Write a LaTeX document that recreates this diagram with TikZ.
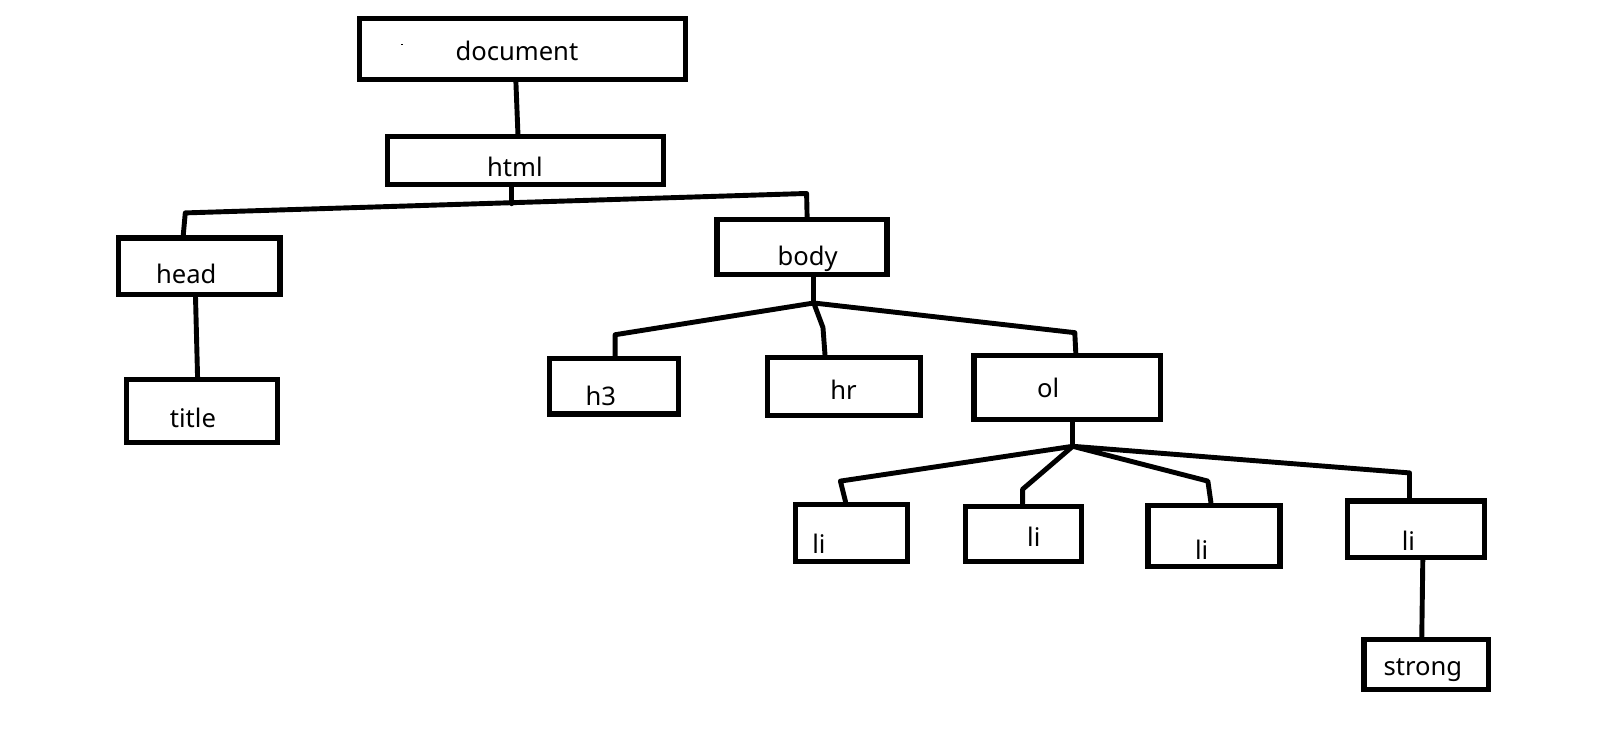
\documentclass[tikz,border=0pt]{standalone}
\usepackage{fontspec}
\setmainfont{Noto Sans}
\usepackage{tikz}

\begin{document}
\begin{tikzpicture}[x=1pt,y=-1pt,
    box/.style={draw,line width=5pt,inner sep=0pt},
    lbl/.style={anchor=base,inner sep=0pt,font=\fontsize{25}{30}\selectfont},
    link/.style={line width=4.8pt,line cap=round,line join=round}]
    \useasboundingbox (0,0) rectangle (1568,723);
    % boxes
    \node[box,minimum width=318pt,minimum height=59pt] (document) at (510.5,48) {};
    \node[box,minimum width=270pt,minimum height=47pt] (html) at (513.5,157) {};
    \node[box,minimum width=158pt,minimum height=55pt] (head) at (194.5,260) {};
    \node[box,minimum width=148pt,minimum height=62pt] (title) at (197.5,401.5) {};
    \node[box,minimum width=166pt,minimum height=54pt] (body) at (783.5,241.5) {};
    \node[box,minimum width=126pt,minimum height=54pt] (h3) at (599.5,377.5) {};
    \node[box,minimum width=150pt,minimum height=56pt] (hr) at (824.5,377.5) {};
    \node[box,minimum width=182pt,minimum height=62pt] (ol) at (1042.5,378.5) {};
    \node[box,minimum width=109pt,minimum height=56pt] (li1) at (832,520.5) {};
    \node[box,minimum width=113pt,minimum height=54pt] (li2) at (1000,521.5) {};
    \node[box,minimum width=129pt,minimum height=60pt] (li3) at (1186,523.5) {};
    \node[box,minimum width=134pt,minimum height=55pt] (li4) at (1383.5,517) {};
    \node[box,minimum width=122pt,minimum height=49pt] (strong) at (1393.5,649) {};
    \fill (391.5,42.5) rectangle (394,44);
    % texts
    \node[lbl] (documenttext) at (505,59) {document};
    \node[lbl] (htmltext) at (503,172) {html};
    \node[lbl] (headtext) at (182,277) {head};
    \node[lbl] (titletext) at (188.5,418) {title};
    \node[lbl] (bodytext) at (789,259) {body};
    \node[lbl] (h3text) at (587,396) {h3};
    \node[lbl] (hrtext) at (824,390) {hr};
    \node[lbl] (oltext) at (1024,388) {ol};
    \node[lbl] (li1text) at (800,541) {li};
    \node[lbl] (li2text) at (1010,534) {li};
    \node[lbl] (li3text) at (1174,547) {li};
    \node[lbl] (li4text) at (1376,538) {li};
    \node[lbl] (strongtext) at (1390,660) {strong};
    % junctions
    \coordinate (htmlL) at (181,208);
    \coordinate (htmlJ) at (500,199);
    \coordinate (htmlR) at (788,189);
    \coordinate (bodyJ) at (795,296);
    \coordinate (bodyL) at (601,327);
    \coordinate (bodyM) at (804,320);
    \coordinate (bodyR) at (1050,325);
    \coordinate (olJ) at (1048,436);
    \coordinate (olA) at (821,470);
    \coordinate (olB) at (999,478);
    \coordinate (olC) at (1180,470);
    \coordinate (olD) at (1377,462);
    % links
    \draw[link] ([xshift=-6.5pt]document.south) -- ([xshift=-7.5pt]html.north);
    \draw[link] ([xshift=-13.5pt]html.south) -- (htmlJ);
    \draw[link] ([xshift=-15.5pt]head.north) -- (htmlL) -- (htmlR)
      -- ([xshift=5pt]body.north);
    \draw[link] ([xshift=-3.5pt]head.south) -- ([xshift=-4.5pt]title.north);
    \draw[link] ([xshift=11.5pt]body.south) -- (bodyJ);
    \draw[link] ([xshift=1.5pt]h3.north) -- (bodyL) -- (bodyJ) -- (bodyR)
      -- ([xshift=8.5pt]ol.north);
    \draw[link] (bodyJ) -- (bodyM) -- ([xshift=-18.5pt]hr.north);
    \draw[link] ([xshift=5.5pt]ol.south) -- (olJ);
    \draw[link] ([xshift=-6pt]li1.north) -- (olA) -- (olJ) -- (olD)
      -- ([xshift=-6.5pt]li4.north);
    \draw[link] (olJ) -- (olB) -- ([xshift=-1pt]li2.north);
    \draw[link] (olJ) -- (olC) -- ([xshift=-3pt]li3.north);
    \draw[link] ([xshift=6.5pt]li4.south) -- ([xshift=-4.5pt]strong.north);
  \end{tikzpicture}
\end{document}
